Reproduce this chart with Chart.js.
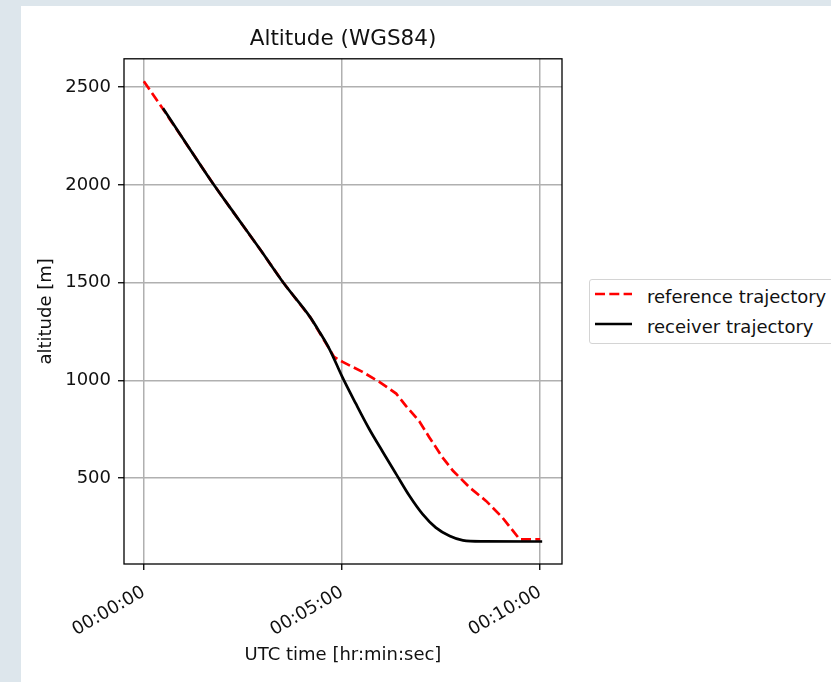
<!DOCTYPE html>
<html lang="en">
<head>
    <meta charset="UTF-8">
    <title>Altitude (WGS84)</title>
    <script src="https://cdn.jsdelivr.net/npm/chart.js"></script>
    <style>
        body {
            margin: 0;
            width: 831px;
            height: 682px;
            overflow: hidden;
            position: relative;
            background: #dde6ec;
            font-family: 'DejaVu Sans', sans-serif;
        }
        .sheet {
            position: absolute;
            left: 21px;
            top: 6px;
            width: 830px;
            height: 700px;
            background: #fff;
        }
        #altChart {
            position: absolute;
            left: 0;
            top: 0;
        }
        .legend {
            position: absolute;
            left: 589px;
            top: 279px;
            width: 270px;
            height: 63px;
            border: 1px solid #d4d4d4;
            border-radius: 3px;
            background: #fff;
        }
        .legend svg {
            position: absolute;
            left: 5px;
            width: 38px;
            height: 6px;
        }
        .legend span {
            position: absolute;
            left: 57px;
            font-size: 18px;
            line-height: 22px;
            color: #111;
            white-space: nowrap;
        }
    </style>
</head>
<body>
    <div class="sheet"></div>
    <canvas id="altChart" width="831" height="682"></canvas>
    <div class="legend">
        <svg style="top: 11px;"><line x1="0" y1="3" x2="37" y2="3" stroke="#ff0000" stroke-width="2.7" stroke-dasharray="10 4.3"></line></svg>
        <span style="top: 6px;">reference trajectory</span>
        <svg style="top: 41px;"><line x1="0" y1="3" x2="37" y2="3" stroke="#000" stroke-width="2.7"></line></svg>
        <span style="top: 36px;">receiver trajectory</span>
    </div>
    <script>
        // seconds since start / altitude in metres
        const refTime = [0, 29, 106, 136, 177, 211, 252, 288, 301, 331, 357, 382, 397, 417, 432, 452, 468, 493, 518, 543, 569, 600];
        const refAlt = [2530, 2388, 2000, 1858, 1665, 1500, 1322, 1120, 1094, 1043, 991, 932, 868, 790, 709, 606, 537, 452, 383, 297, 186, 186];

        const rxTime = [29, 106, 136, 177, 211, 252, 266, 281, 300, 321, 341, 362, 382, 402, 422, 442, 463, 483, 513, 603];
        const rxAlt = [2392, 2000, 1858, 1665, 1500, 1322, 1247, 1160, 1020, 880, 752, 632, 520, 409, 315, 246, 203, 181, 176, 175];

        const timeTicks = [0, 300, 600];
        const altTicks = [500, 1000, 1500, 2000, 2500];

        Chart.defaults.font.family = "'DejaVu Sans', sans-serif";
        Chart.defaults.color = '#111';

        function hms(sec) {
            const h = Math.floor(sec / 3600);
            const m = Math.floor(sec / 60) % 60;
            const s = sec % 60;
            return [h, m, s].map(v => String(v).padStart(2, '0')).join(':');
        }

        function toPoints(xs, ys) {
            return xs.map((x, i) => ({ x: x, y: ys[i] }));
        }

        // black frame round the plot area
        const frame = {
            id: 'frame',
            afterDatasetsDraw(chart) {
                const { ctx, chartArea: a } = chart;
                ctx.save();
                ctx.strokeStyle = '#000';
                ctx.lineWidth = 1.3;
                ctx.strokeRect(a.left, a.top, a.right - a.left, a.bottom - a.top);
                ctx.restore();
            }
        };

        const ctx = document.getElementById('altChart').getContext('2d');

        new Chart(ctx, {
            type: 'line',
            data: {
                datasets: [{
                    label: 'receiver trajectory',
                    data: toPoints(rxTime, rxAlt),
                    borderColor: '#000',
                    borderWidth: 2.7,
                    pointRadius: 0,
                    cubicInterpolationMode: 'monotone',
                    order: 0
                }, {
                    label: 'reference trajectory',
                    data: toPoints(refTime, refAlt),
                    borderColor: '#ff0000',
                    borderWidth: 2.7,
                    borderDash: [10, 4.3],
                    pointRadius: 0,
                    tension: 0,
                    order: 1
                }]
            },
            options: {
                responsive: false,
                animation: false,
                devicePixelRatio: 1,
                layout: { padding: { left: 0, right: 269, top: 0, bottom: 0 } },
                plugins: {
                    legend: { display: false },
                    tooltip: { enabled: false },
                    title: {
                        display: true,
                        text: 'Altitude (WGS84)',
                        fullSize: false,
                        color: '#111',
                        font: { size: 21.5, weight: 'normal' },
                        padding: { top: 27, bottom: 6 }
                    }
                },
                scales: {
                    x: {
                        type: 'linear',
                        min: -30,
                        max: 633,
                        afterFit: s => { s.height = 118; },
                        afterBuildTicks: s => { s.ticks = timeTicks.map(v => ({ value: v })); },
                        ticks: {
                            minRotation: 30,
                            maxRotation: 30,
                            padding: 15,
                            font: { size: 18, lineHeight: 0.78 },
                            callback: v => hms(v)
                        },
                        grid: {
                            color: '#b0b0b0',
                            lineWidth: 1.5,
                            tickColor: '#000',
                            tickWidth: 1.3,
                            tickLength: 6
                        },
                        border: { display: false },
                        title: {
                            display: true,
                            text: 'UTC time [hr:min:sec]',
                            font: { size: 18 },
                            padding: { top: 0, bottom: 16 }
                        }
                    },
                    y: {
                        type: 'linear',
                        min: 60,
                        max: 2645,
                        afterFit: s => { s.width = 124; },
                        afterBuildTicks: s => { s.ticks = altTicks.map(v => ({ value: v })); },
                        ticks: {
                            padding: 7,
                            font: { size: 18 },
                            callback: v => String(v)
                        },
                        grid: {
                            color: '#b0b0b0',
                            lineWidth: 1.5,
                            tickColor: '#000',
                            tickWidth: 1.3,
                            tickLength: 6
                        },
                        border: { display: false },
                        title: {
                            display: true,
                            text: 'altitude [m]',
                            font: { size: 18 },
                            padding: { top: 36, bottom: 0 }
                        }
                    }
                }
            },
            plugins: [frame]
        });
    </script>
</body>
</html>
